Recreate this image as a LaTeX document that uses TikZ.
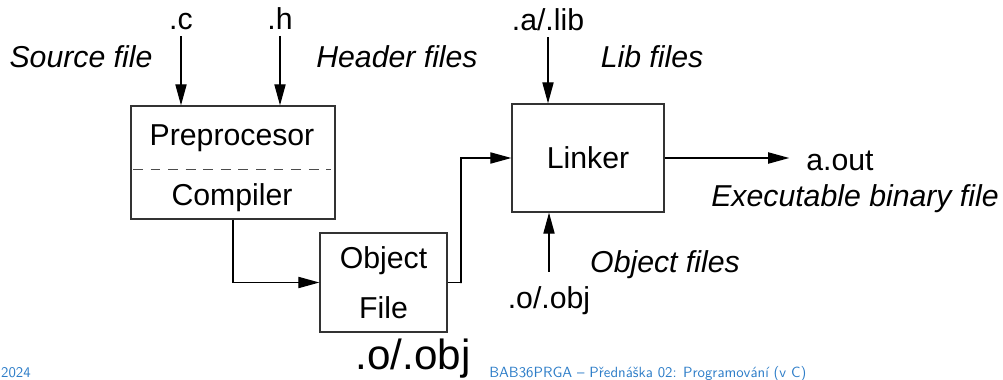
\documentclass[tikz,border=0pt]{standalone}
\usepackage{fontspec}
\setmainfont{Liberation Sans}
\usetikzlibrary{arrows.meta}
\definecolor{footblue}{RGB}{45,125,200}
\tikzset{
  box/.style={draw=black!80, line width=0.9pt, inner sep=0pt, font=\fontsize{21.5}{35.5}\selectfont},
  lbl/.style={font=\fontsize{21.5}{26}\selectfont, inner sep=4pt},
  desc/.style={font=\fontsize{21.5}{26}\selectfont\itshape, inner sep=4pt},
  flow/.style={-{Triangle[length=15pt,width=8pt]}, line width=0.9pt},
  foot/.style={font=\fontsize{10.5}{12}\sffamily, text=footblue, inner sep=0pt},
}
\begin{document}
\begin{tikzpicture}[x=0.025cm, y=-0.025cm]
\useasboundingbox (0,0) rectangle (1003,380);

% Boxes
\node[box, minimum width=5.1cm, minimum height=2.825cm] (comp) at (233,162.5) {};
\node[box, minimum width=3.175cm, minimum height=2.475cm, align=center] (obj) at (383.5,282.5) {Object\\File};
\node[box, minimum width=3.8cm, minimum height=2.7cm] (link) at (588,158) {Linker};

% Preprocessor / compiler halves
\node[lbl, anchor=base] (pre) at (232,145) {Preprocesor};
\node[lbl, anchor=base] (cc) at (232,205) {Compiler};
\draw[black!70, line width=0.7pt, dash pattern=on 7pt off 5.5pt] (133,169) -- (331,169);

% Inputs
\node[lbl, anchor=base] (src) at (181,30) {.c};
\node[lbl, anchor=base] (hdr) at (280,30) {.h};
\node[lbl, anchor=base] (lib) at (548,31) {.a/.lib};
\node[lbl, anchor=base, inner ysep=10pt] (objin) at (549,308) {.o/.obj};

% Descriptions
\node[desc, anchor=base] (srcd) at (81,68) {Source file};
\node[desc, anchor=base] (hdrd) at (397,68) {Header files};
\node[desc, anchor=base] (libd) at (652,68) {Lib files};
\node[desc, anchor=base] (objd) at (665,272) {Object files};
\node[desc, anchor=base] (exed) at (855,206) {Executable binary file};

% Output
\node[lbl, anchor=base, inner xsep=12pt] (aout) at (840,170) {a.out};
\node[font=\fontsize{30}{36}\selectfont, anchor=base, inner sep=0pt] (objout) at (413,369) {.o/.obj};

% Connectors
\coordinate (bend) at (461,283);
\draw[flow] (src.south) -- (src.south |- comp.north);
\draw[flow] (hdr.south) -- (hdr.south |- comp.north);
\draw[flow] (lib.south) -- (lib.south |- link.north);
\draw[flow] (objin.north) -- (objin.north |- link.south);
\draw[flow] (comp.south) |- (obj.west);
\draw[flow] (obj.east) -| (bend) |- (link.west);
\draw[flow] (link.east) -- (link.east -| aout.west);

% Footer
\node[foot, anchor=base west] (course) at (489,377) {BAB36PRGA -- Přednáška 02: Programování (v C)};
\node[foot, anchor=base east] (year) at (31,377) {2024};
\end{tikzpicture}
\end{document}
